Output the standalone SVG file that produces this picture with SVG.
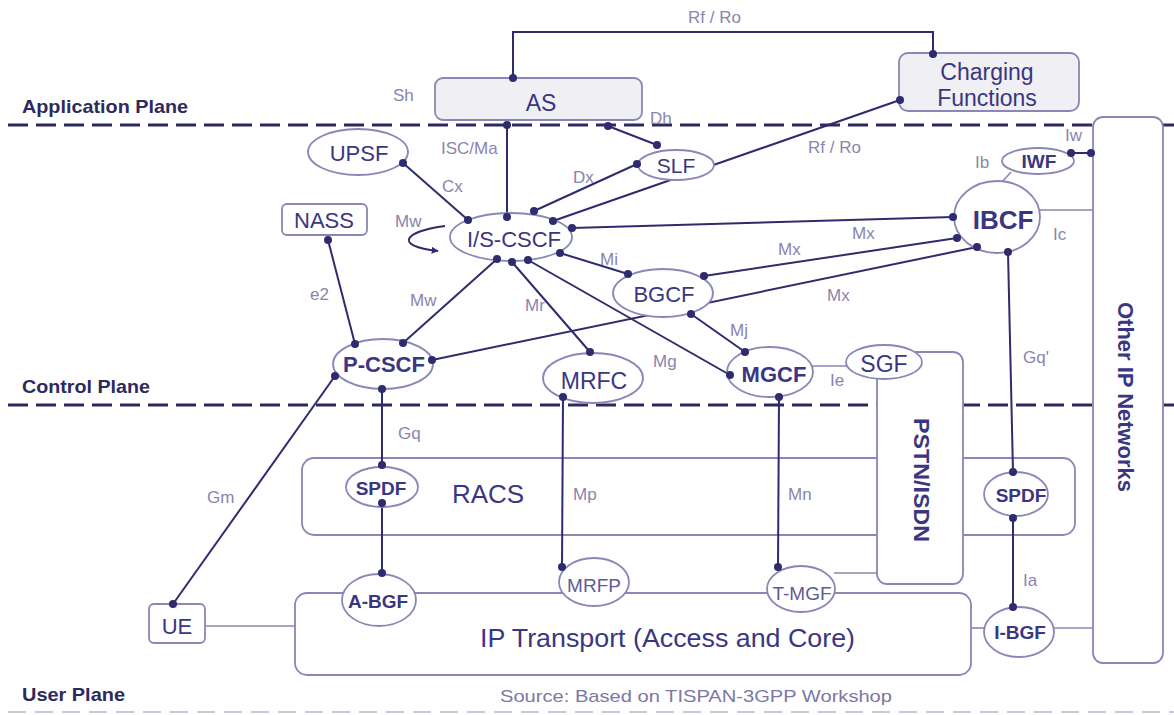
<svg xmlns="http://www.w3.org/2000/svg" width="1174" height="715" viewBox="0 0 1174 715">
<style>
.plane{stroke:#2d2a5e;stroke-width:3;stroke-dasharray:20 8;fill:none}
.faint{stroke:#c9c7dc;stroke-width:2;stroke-dasharray:18 9;fill:none}
.pl{font-family:"Liberation Sans",Arial,sans-serif;font-weight:bold;font-size:19px;fill:#2d2a5e}
.src{font-family:"Liberation Sans",Arial,sans-serif;font-size:17px;fill:#7b78a5}
.ln{stroke:#2e2b6e;stroke-width:2;fill:none}
.lt{stroke:#8a86b6;stroke-width:1.6;fill:none}
.dot{fill:#2e2b6e}
.nd{fill:#fff;stroke:#8a86b6;stroke-width:1.8}
.gr{fill:#efeff4;stroke:#8a86b6;stroke-width:1.8}
.bx{fill:none;stroke:#8a86b6;stroke-width:1.8}
.t{font-family:"Liberation Sans",Arial,sans-serif;font-size:22px;fill:#3a3682;text-anchor:middle}
.b{font-weight:bold}
.lb{font-family:"Liberation Sans",Arial,sans-serif;font-size:17px;fill:#8985ae}
</style>
<defs>
<marker id="arr" viewBox="0 0 10 10" refX="9" refY="5" markerWidth="7" markerHeight="7" orient="auto" markerUnits="userSpaceOnUse">
<path d="M0,0 L10,5 L0,10 z" fill="#2e2b6e"/>
</marker>
</defs>
<rect width="1174" height="715" fill="#fff"/>

<g id="planes">
<line class="plane" x1="8" y1="125" x2="1174" y2="125"/>
<line class="plane" x1="8" y1="405" x2="1174" y2="405"/>
<line class="faint" x1="8" y1="712" x2="1174" y2="712"/>
<text class="pl" x="22" y="113" textLength="166" lengthAdjust="spacingAndGlyphs">Application Plane</text>
<text class="pl" x="22" y="393" textLength="128" lengthAdjust="spacingAndGlyphs">Control Plane</text>
<text class="pl" x="22" y="701" textLength="103" lengthAdjust="spacingAndGlyphs">User Plane</text>
<text class="src" x="500" y="702" textLength="392" lengthAdjust="spacingAndGlyphs">Source: Based on TISPAN-3GPP Workshop</text>
</g>

<g id="racs">
<rect class="bx" x="302" y="458" width="773" height="77" rx="12"/>
<text class="t" x="488" y="503" style="font-size:26px">RACS</text>
</g>
<g id="ip-transport">
<rect class="nd" x="295" y="593" width="676" height="82" rx="12"/>
<text class="t" x="480" y="647" style="font-size:26px;text-anchor:start" textLength="375" lengthAdjust="spacingAndGlyphs">IP Transport (Access and Core)</text>
</g>
<g id="pstn-isdn">
<rect class="nd" x="877" y="352" width="86" height="232" rx="10"/>
<text class="t b" transform="translate(914,480) rotate(90)" x="0" y="0" textLength="124" lengthAdjust="spacingAndGlyphs">PSTN/ISDN</text>
</g>
<g id="other-ip-networks">
<rect class="nd" x="1093" y="117" width="70" height="546" rx="10"/>
<text class="t b" transform="translate(1118,397) rotate(90)" x="0" y="0" textLength="190" lengthAdjust="spacingAndGlyphs">Other IP Networks</text>
</g>

<g id="connectors">
<polyline class="ln" points="513,78 513,32 933,32 933,54"/>
<line class="ln" x1="553" y1="221" x2="900" y2="100"/>
<line class="ln" x1="507" y1="125" x2="507" y2="217"/>
<line class="ln" x1="608" y1="126" x2="657" y2="145"/>
<line class="ln" x1="637" y1="164" x2="534" y2="211"/>
<line class="ln" x1="403" y1="163" x2="468" y2="220"/>
<line class="ln" x1="328" y1="240" x2="355" y2="344"/>
<line class="ln" x1="497" y1="259" x2="403" y2="343"/>
<line class="ln" x1="512" y1="262" x2="590" y2="352"/>
<line class="ln" x1="528" y1="260" x2="730" y2="375"/>
<line class="ln" x1="560" y1="253" x2="628" y2="274"/>
<line class="ln" x1="572" y1="228" x2="953" y2="217"/>
<line class="ln" x1="704" y1="276" x2="957" y2="238"/>
<line class="ln" x1="432" y1="360" x2="977" y2="247"/>
<line class="ln" x1="691" y1="314" x2="745" y2="352"/>
<line class="ln" x1="1008" y1="252" x2="1013" y2="472"/>
<line class="ln" x1="382" y1="389" x2="382" y2="465"/>
<line class="ln" x1="335" y1="376" x2="173" y2="604"/>
<line class="ln" x1="563" y1="397" x2="562" y2="567"/>
<line class="ln" x1="779" y1="397" x2="778" y2="567"/>
<line class="ln" x1="382" y1="503" x2="382" y2="573"/>
<line class="ln" x1="1013" y1="518" x2="1013" y2="607"/>
<line class="ln" x1="1071" y1="153" x2="1093" y2="153"/>
<line class="lt" x1="1038" y1="210" x2="1093" y2="210"/>
<line class="lt" x1="1002" y1="182" x2="1011" y2="172"/>
<line class="lt" x1="812" y1="366" x2="847" y2="366"/>
<line class="lt" x1="205" y1="626" x2="295" y2="626"/>
<line class="lt" x1="834" y1="573" x2="877" y2="573"/>
<line class="lt" x1="971" y1="628" x2="984" y2="628"/>
<line class="lt" x1="1054" y1="628" x2="1093" y2="628"/>
<path class="ln" d="M445,226 C405,231 392,246 438,251" marker-end="url(#arr)"/>
<text class="lb" x="688" y="23">Rf / Ro</text>
<text class="lb" x="393" y="101">Sh</text>
<text class="lb" x="441" y="154">ISC/Ma</text>
<text class="lb" x="650" y="124">Dh</text>
<text class="lb" x="442" y="192">Cx</text>
<text class="lb" x="573" y="183">Dx</text>
<text class="lb" x="808" y="153">Rf / Ro</text>
<text class="lb" x="975" y="168">Ib</text>
<text class="lb" x="1065" y="141">Iw</text>
<text class="lb" x="395" y="227">Mw</text>
<text class="lb" x="310" y="300">e2</text>
<text class="lb" x="852" y="239">Mx</text>
<text class="lb" x="778" y="255">Mx</text>
<text class="lb" x="1053" y="240">Ic</text>
<text class="lb" x="600" y="265">Mi</text>
<text class="lb" x="410" y="306">Mw</text>
<text class="lb" x="525" y="311">Mr</text>
<text class="lb" x="827" y="301">Mx</text>
<text class="lb" x="730" y="336">Mj</text>
<text class="lb" x="653" y="367">Mg</text>
<text class="lb" x="1023" y="363">Gq'</text>
<text class="lb" x="830" y="386">Ie</text>
<text class="lb" x="398" y="439">Gq</text>
<text class="lb" x="207" y="503">Gm</text>
<text class="lb" x="573" y="500">Mp</text>
<text class="lb" x="788" y="500">Mn</text>
<text class="lb" x="1023" y="586">Ia</text>
</g>

<g id="as"><rect class="gr" x="435" y="78" width="207" height="42" rx="8"/><text class="t" x="541" y="111" style="font-size:23px">AS</text></g>
<g id="charging-functions"><rect class="gr" x="899" y="53" width="180" height="58" rx="9"/><text class="t" x="987" y="80" style="font-size:23px">Charging</text><text class="t" x="987" y="106" style="font-size:23px">Functions</text></g>
<g id="upsf"><ellipse class="nd" cx="358" cy="152" rx="50" ry="23"/><text class="t" x="359" y="161">UPSF</text></g>
<g id="slf"><ellipse class="nd" cx="676" cy="165" rx="38" ry="15"/><text class="t" x="676" y="173" style="font-size:21px">SLF</text></g>
<g id="nass"><rect class="nd" x="282" y="204" width="85" height="31" rx="5"/><text class="t" x="324" y="228">NASS</text></g>
<g id="is-cscf"><ellipse class="nd" cx="511" cy="237" rx="61" ry="24"/><text class="t" x="514" y="247">I/S-CSCF</text></g>
<g id="iwf"><ellipse class="nd" cx="1038" cy="161" rx="36" ry="13"/><text class="t b" x="1039" y="168" style="font-size:19px">IWF</text></g>
<g id="ibcf"><ellipse class="nd" cx="997" cy="217" rx="43" ry="36"/><text class="t b" x="1003" y="229" style="font-size:26px">IBCF</text></g>
<g id="bgcf"><ellipse class="nd" cx="663" cy="293" rx="50" ry="24"/><text class="t" x="664" y="302">BGCF</text></g>
<g id="p-cscf"><ellipse class="nd" cx="383" cy="364" rx="50" ry="25"/><text class="t b" x="384" y="372">P-CSCF</text></g>
<g id="mrfc"><ellipse class="nd" cx="593" cy="378" rx="50" ry="25"/><text class="t" x="594" y="389" style="font-size:23px">MRFC</text></g>
<g id="mgcf"><ellipse class="nd" cx="770" cy="372" rx="43" ry="25"/><text class="t b" x="774" y="382">MGCF</text></g>
<g id="sgf"><ellipse class="nd" cx="884" cy="362" rx="38" ry="17"/><text class="t" x="884" y="372" style="font-size:23px">SGF</text></g>
<g id="spdf-access"><ellipse class="nd" cx="382" cy="487" rx="36" ry="20"/><text class="t b" x="381" y="495" style="font-size:19px">SPDF</text></g>
<g id="spdf-interconnect"><ellipse class="nd" cx="1016" cy="494" rx="32" ry="22"/><text class="t b" x="1021" y="502" style="font-size:19px">SPDF</text></g>
<g id="a-bgf"><ellipse class="nd" cx="379" cy="600" rx="37" ry="26"/><text class="t b" x="378" y="608" style="font-size:19px">A-BGF</text></g>
<g id="mrfp"><ellipse class="nd" cx="594" cy="582" rx="35" ry="24"/><text class="t" x="594" y="592" style="font-size:19px;fill:#5f5b95">MRFP</text></g>
<g id="t-mgf"><ellipse class="nd" cx="801" cy="589" rx="34" ry="23"/><text class="t" x="802" y="600" style="font-size:19px;fill:#5f5b95">T-MGF</text></g>
<g id="ue"><rect class="nd" x="149" y="604" width="56" height="39" rx="5"/><text class="t" x="177" y="634">UE</text></g>
<g id="i-bgf"><ellipse class="nd" cx="1019" cy="632" rx="35" ry="25"/><text class="t b" x="1020" y="639" style="font-size:19px">I-BGF</text></g>

<g id="connector-ends">
<circle class="dot" cx="513" cy="78" r="4"/><circle class="dot" cx="933" cy="54" r="4"/>
<circle class="dot" cx="900" cy="100" r="4"/><circle class="dot" cx="553" cy="221" r="4"/>
<circle class="dot" cx="507" cy="125" r="4"/><circle class="dot" cx="507" cy="217" r="4"/>
<circle class="dot" cx="608" cy="126" r="4"/><circle class="dot" cx="657" cy="145" r="4"/>
<circle class="dot" cx="637" cy="164" r="4"/><circle class="dot" cx="534" cy="211" r="4"/>
<circle class="dot" cx="403" cy="163" r="4"/><circle class="dot" cx="468" cy="220" r="4"/>
<circle class="dot" cx="328" cy="240" r="4"/><circle class="dot" cx="355" cy="344" r="4"/>
<circle class="dot" cx="497" cy="259" r="4"/><circle class="dot" cx="403" cy="343" r="4"/>
<circle class="dot" cx="512" cy="262" r="4"/><circle class="dot" cx="590" cy="352" r="4"/>
<circle class="dot" cx="528" cy="260" r="4"/><circle class="dot" cx="730" cy="375" r="4"/>
<circle class="dot" cx="560" cy="253" r="4"/><circle class="dot" cx="628" cy="274" r="4"/>
<circle class="dot" cx="572" cy="228" r="4"/><circle class="dot" cx="953" cy="217" r="4"/>
<circle class="dot" cx="704" cy="276" r="4"/><circle class="dot" cx="957" cy="238" r="4"/>
<circle class="dot" cx="432" cy="360" r="4"/><circle class="dot" cx="977" cy="247" r="4"/>
<circle class="dot" cx="691" cy="314" r="4"/><circle class="dot" cx="745" cy="352" r="4"/>
<circle class="dot" cx="1008" cy="252" r="4"/><circle class="dot" cx="1013" cy="472" r="4"/>
<circle class="dot" cx="382" cy="389" r="4"/><circle class="dot" cx="382" cy="465" r="4"/>
<circle class="dot" cx="335" cy="376" r="4"/><circle class="dot" cx="173" cy="604" r="4"/>
<circle class="dot" cx="563" cy="397" r="4"/><circle class="dot" cx="562" cy="567" r="4"/>
<circle class="dot" cx="779" cy="397" r="4"/><circle class="dot" cx="778" cy="567" r="4"/>
<circle class="dot" cx="382" cy="503" r="4"/><circle class="dot" cx="382" cy="573" r="4"/>
<circle class="dot" cx="1013" cy="518" r="4"/><circle class="dot" cx="1013" cy="607" r="4"/>
<circle class="dot" cx="1071" cy="153" r="4"/><circle class="dot" cx="1091" cy="153" r="4"/>
</g>
</svg>
